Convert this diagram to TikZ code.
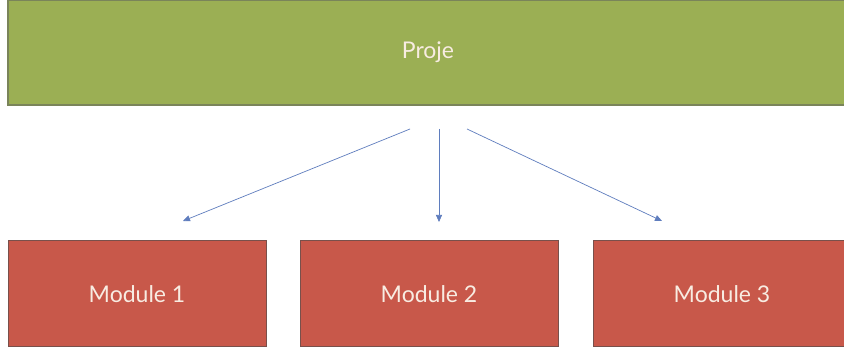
\documentclass[tikz,border=0pt]{standalone}
\usepackage{fontspec}
\setmainfont{Lato}
\usetikzlibrary{arrows.meta}
\definecolor{projgreen}{RGB}{155,175,84}
\definecolor{projgreenedge}{RGB}{122,132,90}
\definecolor{modred}{RGB}{200,88,74}
\definecolor{modrededge}{RGB}{120,80,75}
\definecolor{arrowblue}{RGB}{95,125,190}
\definecolor{txtlight}{RGB}{248,236,226}
\tikzset{
  projbox/.style={draw=projgreenedge, line width=1.2pt, fill=projgreen, minimum width=840pt, minimum height=105pt, inner sep=0pt, text=txtlight, font=\fontsize{23}{27}\selectfont},
  modbox/.style={draw=modrededge, line width=1pt, fill=modred, minimum width=258pt, minimum height=106pt, inner sep=0pt, text=txtlight, font=\fontsize{23}{27}\selectfont},
  conn/.style={draw=arrowblue, line width=0.7pt, -{Triangle[length=7pt,width=6pt]}}
}
\begin{document}
\begin{tikzpicture}[x=1pt,y=-1pt]
\path[use as bounding box, fill=white] (0,0) rectangle (844,352);
\begin{scope}
\clip (0,0) rectangle (844,352);
\node[projbox] (proj) at (428,52.5) {Proje};
\node[modbox] (m1) at (137,294) {Module 1};
\node[modbox] (m2) at (429,294) {Module 2};
\node[modbox] (m3) at (722,294) {Module 3};
\end{scope}
\coordinate (s1) at (410,129);
\coordinate (s2) at (439,129);
\coordinate (s3) at (467,129);
\coordinate (e1) at (183,221);
\coordinate (e2) at (439,222);
\coordinate (e3) at (662,221);
\draw[conn] (s1) -- (e1);
\draw[conn] (s2) -- (e2);
\draw[conn] (s3) -- (e3);
\end{tikzpicture}
\end{document}
